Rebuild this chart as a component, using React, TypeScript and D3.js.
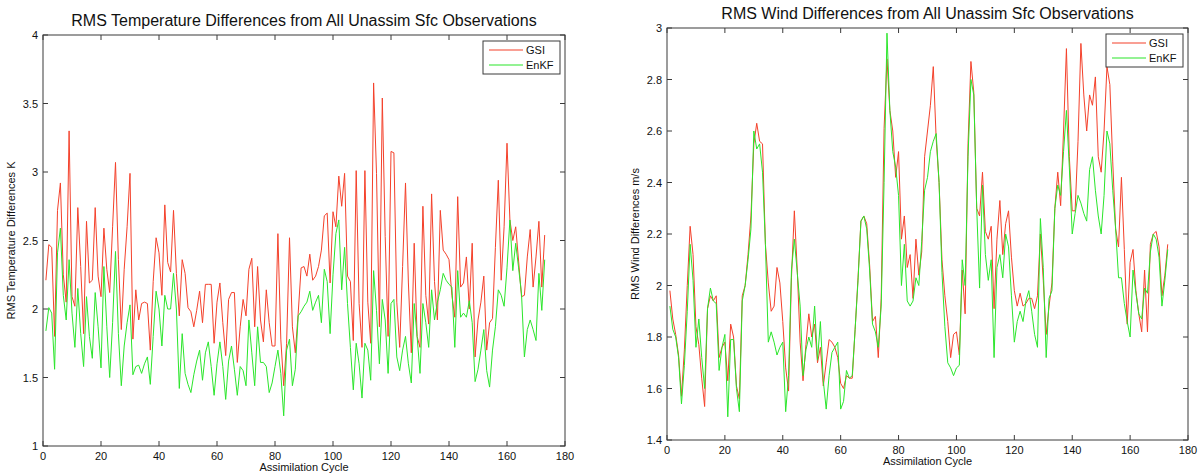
import React from 'react';
import * as d3 from 'd3';

// RMS temperature differences (K), cycles 1..173
const tempGsi = [
  2.21, 2.47, 2.45, 1.80, 2.72, 2.92, 2.25, 2.05, 3.30, 2.09,
  2.02, 2.74, 2.31, 1.82, 2.64, 2.19, 2.21, 2.74, 2.24, 2.09,
  2.59, 2.29, 2.12, 2.60, 3.07, 2.36, 1.85, 2.29, 2.60, 2.99,
  1.78, 2.14, 1.92, 2.04, 2.05, 2.04, 1.70, 2.20, 2.52, 2.41,
  2.10, 2.76, 2.34, 2.27, 2.72, 2.26, 1.95, 2.36, 2.26, 2.01,
  1.98, 1.87, 1.99, 2.13, 1.90, 2.18, 2.18, 2.18, 1.75, 2.05,
  2.19, 1.90, 1.66, 2.07, 2.12, 2.12, 1.61, 1.87, 2.07, 1.95,
  2.29, 2.37, 1.87, 2.31, 1.92, 1.76, 2.14, 1.90, 1.73, 1.73,
  2.55, 1.78, 1.44, 1.75, 2.52, 1.87, 1.68, 1.97, 2.30, 2.31,
  2.24, 2.40, 2.21, 2.24, 2.31, 2.43, 2.68, 2.70, 2.19, 2.71,
  2.60, 2.97, 2.75, 2.99, 2.24, 2.20, 1.77, 3.01, 2.04, 1.72,
  3.01, 2.05, 1.75, 3.65, 2.99, 1.87, 3.54, 2.53, 1.80, 3.15,
  3.14, 2.05, 1.72, 2.31, 2.92, 2.19, 1.68, 2.48, 1.80, 1.72,
  2.75, 2.10, 1.89, 2.84, 2.20, 1.92, 2.72, 2.43, 2.40, 2.36,
  2.10, 1.94, 2.82, 2.16, 2.19, 2.38, 2.00, 2.48, 1.65, 1.92,
  2.05, 2.24, 1.70, 1.90, 1.93, 2.45, 2.94, 2.21, 2.60, 3.21,
  2.65, 2.50, 2.60, 2.35, 2.09, 2.10, 2.38, 2.58, 2.16, 2.38,
  2.64, 2.16, 2.54,
];

const tempEnkf = [
  1.84, 2.01, 1.97, 1.56, 2.41, 2.59, 2.10, 1.92, 2.36, 1.97,
  1.72, 2.15, 1.82, 1.58, 2.09, 1.80, 1.64, 2.12, 1.87, 1.57,
  2.31, 1.87, 1.50, 1.90, 2.42, 1.82, 1.44, 1.73, 1.90, 2.03,
  1.52, 1.58, 1.59, 1.53, 1.60, 1.65, 1.45, 1.80, 2.13, 2.00,
  1.73, 2.10, 2.00, 2.00, 2.26, 2.00, 1.42, 1.82, 1.53, 1.45,
  1.39, 1.52, 1.62, 1.70, 1.48, 1.68, 1.76, 1.58, 1.37, 1.60,
  1.76, 1.58, 1.34, 1.62, 1.73, 1.56, 1.37, 1.58, 1.55, 1.44,
  1.92, 1.68, 1.44, 1.87, 1.61, 1.61, 1.58, 1.39, 1.46, 1.58,
  1.70, 1.53, 1.22, 1.70, 1.78, 1.44, 1.56, 1.95, 1.98, 2.02,
  2.05, 2.13, 1.99, 2.05, 2.10, 1.90, 2.29, 2.20, 1.82, 2.25,
  2.55, 2.65, 2.14, 2.45, 2.04, 1.72, 1.41, 1.75, 1.60, 1.35,
  1.75, 1.70, 1.48, 2.28, 1.99, 1.60, 2.07, 1.92, 1.53, 2.04,
  2.07, 1.65, 1.55, 1.70, 1.80, 1.60, 1.46, 2.04, 1.80, 1.53,
  2.04, 1.90, 1.72, 2.14, 1.92, 2.05, 2.14, 2.26, 2.21, 2.18,
  2.16, 1.72, 2.28, 1.94, 1.97, 1.94, 2.06, 1.90, 1.47, 1.56,
  1.70, 1.85, 1.55, 1.43, 1.70, 1.87, 2.14, 2.10, 2.02, 2.30,
  2.65, 2.28, 2.48, 2.30, 2.11, 1.65, 1.85, 1.92, 1.85, 1.77,
  2.26, 1.99, 2.36,
];

// RMS wind differences (m/s), cycles 1..173
const windGsi = [
  1.98, 1.87, 1.81, 1.73, 1.57, 1.75, 2.00, 2.23, 2.12, 1.84,
  1.77, 1.64, 1.53, 1.91, 1.96, 1.94, 1.96, 1.72, 1.76, 1.78,
  1.63, 1.85, 1.80, 1.61, 1.56, 1.96, 2.00, 2.12, 2.27, 2.55,
  2.63, 2.56, 2.55, 2.16, 2.01, 1.90, 1.92, 2.07, 2.01, 1.86,
  1.68, 1.59, 2.03, 2.29, 2.06, 1.78, 1.63, 1.77, 1.89, 1.80,
  1.85, 1.70, 1.76, 1.61, 1.70, 1.79, 1.78, 1.76, 1.72, 1.62,
  1.60, 1.65, 1.64, 1.64, 1.83, 2.03, 2.25, 2.27, 2.24, 2.08,
  1.86, 1.88, 1.72, 1.95, 2.61, 2.88, 2.68, 2.60, 2.42, 2.52,
  2.18, 2.27, 2.07, 2.12, 1.95, 2.18, 2.04, 2.13, 2.50, 2.60,
  2.70, 2.85, 2.57, 2.40, 2.10, 1.96, 1.86, 1.72, 1.81, 1.82,
  1.73, 2.06, 1.89, 2.55, 2.87, 2.75, 2.30, 2.27, 2.44, 2.21,
  2.18, 2.23, 1.91, 2.18, 2.33, 2.12, 2.24, 2.29, 2.11, 1.98,
  1.92, 1.97, 1.92, 1.93, 1.95, 1.95, 1.91, 1.96, 2.20, 2.02,
  1.81, 1.92, 2.01, 2.30, 2.44, 2.31, 2.60, 2.92, 2.50, 2.29,
  2.29, 2.56, 2.94, 2.74, 2.60, 2.74, 2.70, 2.81, 2.50, 2.44,
  2.60, 2.85, 2.78, 2.48, 2.22, 2.15, 2.42, 2.14, 1.85, 2.09,
  2.14, 1.98, 1.89, 1.82, 2.06, 1.82, 2.16, 2.20, 2.21, 2.15,
  1.96, 2.04, 2.16,
];

const windEnkf = [
  1.92, 1.83, 1.80, 1.72, 1.54, 1.69, 1.90, 2.16, 2.02, 1.76,
  1.87, 1.72, 1.60, 1.91, 1.99, 1.94, 1.93, 1.67, 1.76, 1.81,
  1.49, 1.79, 1.79, 1.60, 1.51, 1.94, 2.00, 2.10, 2.22, 2.60,
  2.53, 2.55, 2.44, 2.16, 1.78, 1.82, 1.78, 1.73, 1.76, 1.78,
  1.51, 1.65, 2.06, 2.18, 2.05, 1.92, 1.65, 1.75, 1.80, 1.76,
  1.92, 1.71, 1.86, 1.63, 1.52, 1.65, 1.74, 1.76, 1.78, 1.52,
  1.55, 1.67, 1.64, 1.65, 1.83, 2.02, 2.25, 2.27, 2.22, 2.06,
  1.85, 1.82, 1.76, 1.92, 2.40, 2.98, 2.68, 2.52, 2.46, 2.35,
  2.00, 2.16, 1.94, 1.92, 1.94, 2.03, 2.00, 2.17, 2.37, 2.42,
  2.52, 2.56, 2.59, 2.40, 2.05, 1.84, 1.70, 1.68, 1.65, 1.68,
  1.69, 2.10, 2.00, 2.50, 2.80, 2.74, 2.30, 1.99, 2.39, 2.12,
  2.02, 2.10, 1.72, 2.07, 2.12, 2.03, 2.20, 2.15, 1.96, 1.78,
  1.86, 1.90, 1.86, 1.94, 1.98, 1.90, 1.81, 1.76, 2.26, 2.07,
  1.72, 1.95, 1.98, 2.30, 2.39, 2.35, 2.52, 2.68, 2.46, 2.20,
  2.28, 2.35, 2.32, 2.28, 2.25, 2.45, 2.50, 2.37, 2.27, 2.20,
  2.35, 2.60, 2.55, 2.37, 2.22, 2.03, 2.03, 1.93, 1.86, 1.80,
  2.06, 1.97, 1.89, 1.87, 1.99, 1.97, 2.13, 2.20, 2.18, 2.11,
  1.92, 2.02, 2.14,
];

const xTicks = [0, 20, 40, 60, 80, 100, 120, 140, 160, 180];
const tempTicks = [1, 1.5, 2, 2.5, 3, 3.5, 4];
const windTicks = [1.4, 1.6, 1.8, 2, 2.2, 2.4, 2.6, 2.8, 3];
const seriesNames = ['GSI', 'EnKF'];

const GSI_COLOR = '#f4412b';
const ENKF_COLOR = '#2be62b';
const AXIS_COLOR = '#3a3a3a';
const FONT = '"Liberation Sans", Arial, Helvetica, sans-serif';

type PanelProps = {
  left: number;
  right: number;
  top: number;
  bottom: number;
  yDomain: [number, number];
  yTicks: number[];
  title: string;
  yLabel: string;
  gsi: number[];
  enkf: number[];
};

const Panel = ({ left, right, top, bottom, yDomain, yTicks, title, yLabel, gsi, enkf }: PanelProps) => {
  const x = d3.scaleLinear().domain([0, 180]).range([left, right]);
  const y = d3.scaleLinear().domain(yDomain).range([bottom, top]);

  const line = d3.line<number>()
    .x((_, i) => x(i + 1))
    .y(d => y(d));

  const tick = 5;
  const legX = right - 82;
  const legY = top + 6;

  return (
    <g fontFamily={FONT}>
      <text x={(left + right) / 2} y={top - 9} textAnchor="middle" fontSize={16} fill="#111">
        {title}
      </text>

      <path d={line(gsi) ?? ''} fill="none" stroke={GSI_COLOR} strokeWidth={1} />
      <path d={line(enkf) ?? ''} fill="none" stroke={ENKF_COLOR} strokeWidth={1} />

      {/* box */}
      <rect x={left} y={top} width={right - left} height={bottom - top}
        fill="none" stroke={AXIS_COLOR} strokeWidth={1} />

      {/* x ticks */}
      {xTicks.map(t => (
        <g key={'x' + t}>
          <line x1={x(t)} x2={x(t)} y1={bottom} y2={bottom - tick} stroke={AXIS_COLOR} />
          <line x1={x(t)} x2={x(t)} y1={top} y2={top + tick} stroke={AXIS_COLOR} />
          <text x={x(t)} y={bottom + 14} textAnchor="middle" fontSize={11} fill="#111">{t}</text>
        </g>
      ))}

      {/* y ticks */}
      {yTicks.map(t => (
        <g key={'y' + t}>
          <line x1={left} x2={left + tick} y1={y(t)} y2={y(t)} stroke={AXIS_COLOR} />
          <line x1={right} x2={right - tick} y1={y(t)} y2={y(t)} stroke={AXIS_COLOR} />
          <text x={left - 5} y={y(t) + 4} textAnchor="end" fontSize={11} fill="#111">{String(t)}</text>
        </g>
      ))}

      <text x={(left + right) / 2} y={bottom + 25} textAnchor="middle" fontSize={11} fill="#111">
        Assimilation Cycle
      </text>
      <text transform={`translate(${left - 28},${(top + bottom) / 2}) rotate(-90)`}
        textAnchor="middle" fontSize={11} fill="#111">
        {yLabel}
      </text>

      {/* legend */}
      <rect x={legX} y={legY} width={77} height={33} fill="#fff" stroke={AXIS_COLOR} />
      {seriesNames.map((name, i) => (
        <g key={name}>
          <line x1={legX + 6} x2={legX + 40} y1={legY + 9 + i * 15} y2={legY + 9 + i * 15}
            stroke={i === 0 ? GSI_COLOR : ENKF_COLOR} strokeWidth={1.2} />
          <text x={legX + 43} y={legY + 13 + i * 15} fontSize={11} fill="#111">{name}</text>
        </g>
      ))}
    </g>
  );
};

export default function App() {
  return (
    <svg width={1199} height={476} style={{ position: 'absolute', left: 0, top: 0, background: '#fff' }}>
      <rect width={1199} height={476} fill="#fff" />
      <Panel
        left={43} right={565} top={35} bottom={446}
        yDomain={[1, 4]} yTicks={tempTicks}
        title="RMS Temperature Differences from All Unassim Sfc Observations"
        yLabel="RMS Temperature Differences K"
        gsi={tempGsi} enkf={tempEnkf}
      />
      <Panel
        left={667} right={1188} top={28} bottom={440}
        yDomain={[1.4, 3]} yTicks={windTicks}
        title="RMS Wind Differences from All Unassim Sfc Observations"
        yLabel="RMS Wind Differences m/s"
        gsi={windGsi} enkf={windEnkf}
      />
    </svg>
  );
}
